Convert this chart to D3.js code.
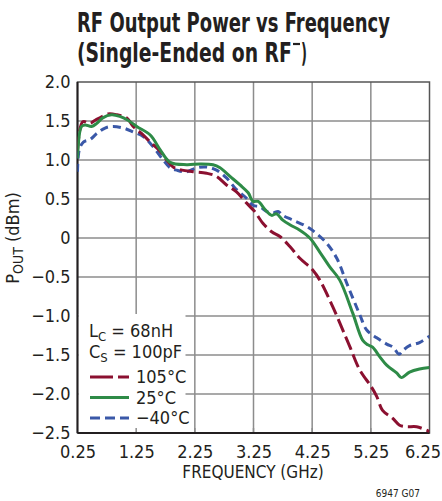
<!DOCTYPE html>
<html><head><meta charset="utf-8">
<script src="https://cdn.jsdelivr.net/npm/d3@7"></script>
<style>
html,body{margin:0;padding:0;background:#fff;}
svg{display:block;}
.t{font-family:"Liberation Sans Narrow","DejaVu Sans Condensed","Arial Narrow",sans-serif;fill:#231f20;}
</style></head>
<body>
<script>
// ---- data ----
const freq105 = [0.25,0.34,0.46,0.55,0.63,0.77,0.92,1.09,1.20,1.34,1.49,1.66,1.77,1.88,2.03,2.22,2.45,2.62,2.79,2.96,3.13,3.22,3.27,3.41,3.56,3.70,3.87,4.04,4.26,4.38,4.60,4.89,5.06,5.26,5.35,5.45,5.62,5.74,5.86,6.03,6.25];
const pout105 = [1.12,1.49,1.47,1.51,1.54,1.59,1.58,1.54,1.43,1.34,1.23,1.11,1.00,0.91,0.87,0.85,0.83,0.79,0.68,0.59,0.45,0.38,0.34,0.19,0.08,0.02,-0.11,-0.26,-0.41,-0.54,-0.88,-1.39,-1.69,-1.91,-2.03,-2.21,-2.31,-2.40,-2.42,-2.42,-2.48];
const freq25 = [0.25,0.32,0.38,0.49,0.58,0.68,0.83,0.97,1.11,1.26,1.49,1.66,1.83,2.11,2.34,2.56,2.68,2.85,3.02,3.16,3.24,3.33,3.45,3.56,3.64,3.75,3.87,4.04,4.21,4.38,4.55,4.72,4.94,5.11,5.20,5.28,5.40,5.52,5.69,5.77,5.91,6.08,6.25];
const pout25 = [1.02,1.43,1.45,1.43,1.47,1.54,1.58,1.56,1.51,1.43,1.32,1.13,0.97,0.94,0.95,0.94,0.90,0.79,0.68,0.58,0.47,0.47,0.36,0.29,0.31,0.23,0.17,0.10,0.00,-0.18,-0.37,-0.54,-0.96,-1.31,-1.37,-1.40,-1.52,-1.63,-1.73,-1.79,-1.72,-1.68,-1.66];
const freqM40 = [0.25,0.28,0.35,0.46,0.58,0.72,0.85,1.03,1.20,1.37,1.54,1.71,1.83,1.94,2.11,2.28,2.45,2.62,2.79,2.96,3.13,3.24,3.36,3.47,3.58,3.67,3.75,3.92,4.15,4.32,4.50,4.67,4.84,5.06,5.18,5.35,5.52,5.63,5.73,5.80,5.91,6.08,6.25];
const poutM40 = [0.85,1.13,1.23,1.26,1.34,1.41,1.43,1.41,1.36,1.30,1.17,1.00,0.90,0.87,0.85,0.90,0.91,0.87,0.77,0.62,0.51,0.42,0.40,0.34,0.32,0.34,0.29,0.23,0.15,0.06,-0.07,-0.26,-0.58,-0.98,-1.18,-1.28,-1.36,-1.40,-1.49,-1.44,-1.38,-1.34,-1.26];
const xTicks = [0.25,1.25,2.25,3.25,4.25,5.25,6.25];
const yTicks = [2.0,1.5,1.0,0.5,0,-0.5,-1.0,-1.5,-2.0,-2.5];
const seriesNames = ["105°C","25°C","\u221240°C"];
const seriesColors = ["#8b1030","#2e8b47","#3a58a8"];
const seriesDash = ["14,5",null,"8,5"];
const legendDash = ["23,5",null,"10,5"];

// ---- layout ----
const W=442,H=501;
const L=77.5,R=429.5,T=82,B=433;
const svg=d3.select("body").append("svg").attr("width",W).attr("height",H);
const x=d3.scaleLinear().domain([0.25,6.25]).range([L,R]);
const y=d3.scaleLinear().domain([-2.5,2.0]).range([B,T]);

// title (horizontally scaled to fit the condensed look)
function fitText(str,px,py,width){
  const t=svg.append("text").attr("class","t").style("font-weight","bold").style("font-size","27px").text(str);
  const w=t.node().getComputedTextLength();
  t.attr("transform",`translate(${px},${py}) scale(${width/w},1)`);
  return t;
}
fitText("RF Output Power vs Frequency",77,32,313);
fitText("(Single-Ended on RF",77,62,215);
svg.append("line").attr("x1",293).attr("x2",300).attr("y1",44).attr("y2",44).attr("stroke","#231f20").attr("stroke-width",2.2);
fitText(")",301,62,6);

// grid
const grid=svg.append("g").attr("stroke","#8c8c8c").attr("stroke-width",1.5);
grid.selectAll("line.v").data(xTicks.slice(1,-1)).join("line").attr("x1",d=>x(d)).attr("x2",d=>x(d)).attr("y1",T).attr("y2",B);
grid.selectAll("line.h").data(yTicks.slice(1,-1)).join("line").attr("x1",L).attr("x2",R).attr("y1",d=>y(d)).attr("y2",d=>y(d));

// frame
svg.append("rect").attr("x",L).attr("y",T).attr("width",R-L).attr("height",B-T).attr("fill","none").attr("stroke","#555").attr("stroke-width",1.5);

// legend box (white) covering grid
svg.append("rect").attr("x",L+1).attr("y",314).attr("width",107).attr("height",B-314-1).attr("fill","#fff");
// small bottom ticks
svg.append("g").attr("stroke","#8c8c8c").attr("stroke-width",1.5).selectAll("line").data(xTicks.slice(1,-1)).join("line")
  .attr("x1",d=>x(d)).attr("x2",d=>x(d)).attr("y1",B-5).attr("y2",B);

// axes lines (left & bottom black)
svg.append("line").attr("x1",L).attr("x2",L).attr("y1",T).attr("y2",B).attr("stroke","#231f20").attr("stroke-width",2);
svg.append("line").attr("x1",L).attr("x2",R).attr("y1",B).attr("y2",B).attr("stroke","#231f20").attr("stroke-width",2);

// axes via d3 (labels only)
const fmtY=d=>d===0?"0":d3.format(".1f")(d).replace("-","\u2212");
const yAxis=svg.append("g").attr("transform",`translate(${L},0)`).call(d3.axisLeft(y).tickValues(yTicks).tickSize(0).tickPadding(7).tickFormat(fmtY));
const xAxis=svg.append("g").attr("transform",`translate(0,${B})`).call(d3.axisBottom(x).tickValues(xTicks).tickSize(0).tickPadding(12).tickFormat(d3.format(".2f")));
[yAxis,xAxis].forEach(a=>{a.select(".domain").remove();a.selectAll("text").attr("class","t").style("font-size","18px").attr("fill","#231f20");});
xAxis.selectAll("text").filter(d=>d===6.25).attr("dx",-7);

// axis titles
svg.append("text").attr("class","t").attr("x",253).attr("y",478).attr("text-anchor","middle").style("font-size","17px").text("FREQUENCY (GHz)");
const yt=svg.append("text").attr("class","t").attr("transform","translate(19,238) rotate(-90)").attr("text-anchor","middle").style("font-size","18px");
yt.append("tspan").text("P");
yt.append("tspan").attr("dy",4).style("font-size","14px").text("OUT");
yt.append("tspan").attr("dy",-4).text(" (dBm)");

// footer
svg.append("text").attr("class","t").attr("x",420).attr("y",497).attr("text-anchor","end").style("font-size","10px").text("6947 G07");

// curves
const series=[[freq105,pout105],[freq25,pout25],[freqM40,poutM40]];
const line=d3.line().x(d=>x(d[0])).y(d=>y(d[1])).curve(d3.curveCatmullRom.alpha(0.5));
svg.append("clipPath").attr("id","c").append("rect").attr("x",L).attr("y",T-5).attr("width",R-L).attr("height",B-T+5);
[2,0,1].forEach(i=>{
  const pts=series[i][0].map((f,j)=>[f,series[i][1][j]]);
  svg.append("path").attr("d",line(pts)).attr("fill","none").attr("stroke",seriesColors[i]).attr("stroke-width",3)
    .attr("stroke-dasharray",seriesDash[i]).attr("stroke-linejoin","round").attr("clip-path","url(#c)");
});

// legend text
const lg=svg.append("g").attr("class","t").style("font-size","18px");
const l1=lg.append("text").attr("x",89).attr("y",337);
l1.append("tspan").text("L");
l1.append("tspan").attr("dy",4).style("font-size","13px").text("C");
l1.append("tspan").attr("dy",-4).text(" = 68nH");
const l2=lg.append("text").attr("x",89).attr("y",358);
l2.append("tspan").text("C");
l2.append("tspan").attr("dy",4).style("font-size","13px").text("S");
l2.append("tspan").attr("dy",-4).text(" = 100pF");
const rowY=[377,397.5,418];
seriesNames.forEach((n,i)=>{
  svg.append("line").attr("x1",90).attr("x2",129).attr("y1",rowY[i]).attr("y2",rowY[i]).attr("stroke",seriesColors[i]).attr("stroke-width",3).attr("stroke-dasharray",legendDash[i]);
  lg.append("text").attr("x",136).attr("y",rowY[i]+6).text(n);
});
</script>
</body></html>
